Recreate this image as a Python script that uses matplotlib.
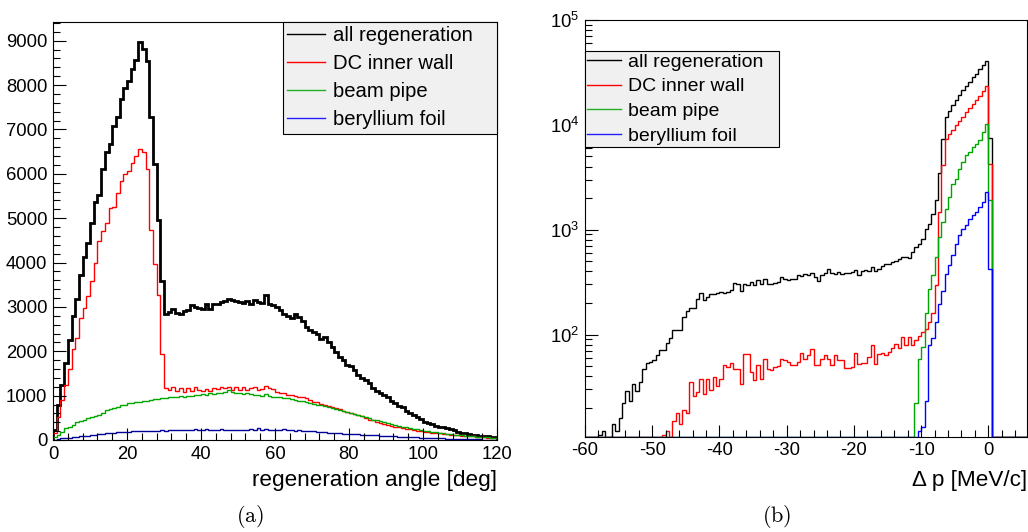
import numpy as np
import matplotlib
matplotlib.use("Agg")
from matplotlib import pyplot as plt
from matplotlib.lines import Line2D
from matplotlib.ticker import MultipleLocator, LogLocator, NullFormatter

plt.rcParams['font.family'] = ['Liberation Sans', 'DejaVu Sans']
plt.rcParams['mathtext.fontset'] = 'custom'
plt.rcParams['mathtext.rm'] = 'Liberation Sans'
plt.rcParams['mathtext.it'] = 'Liberation Sans:italic'
plt.rcParams['mathtext.bf'] = 'Liberation Sans:bold'
plt.rcParams['axes.unicode_minus'] = False

labels = ['all regeneration', 'DC inner wall', 'beam pipe', 'beryllium foil']

# (a) regeneration angle, 1 deg bins from 0 to 120
angle_all = [225, 787, 1237, 1725, 2250, 2790, 3187, 3712, 4125, 4440,
             4890, 5362, 5527, 6097, 6487, 6675, 7087, 7290, 7687, 7935,
             8100, 8362, 8565, 8962, 8812, 8550, 7275, 6225, 4950, 3577,
             2850, 2887, 2947, 2872, 2850, 2910, 2925, 3037, 3000, 2985,
             2962, 3060, 2962, 3075, 3060, 3112, 3135, 3187, 3150, 3135,
             3112, 3097, 3135, 3075, 3150, 3112, 3097, 3262, 3075, 3037,
             3000, 2925, 2850, 2790, 2760, 2850, 2775, 2685, 2550, 2475,
             2437, 2400, 2287, 2325, 2212, 2100, 1987, 1875, 1800, 1687,
             1665, 1575, 1462, 1387, 1350, 1275, 1162, 1110, 1050, 1012,
             960, 885, 825, 765, 735, 652, 600, 562, 525, 465,
             412, 390, 360, 315, 300, 300, 262, 247, 225, 187,
             165, 150, 135, 120, 105, 90, 85, 80, 75, 65]
angle_dc = [150, 525, 900, 1240, 1610, 2040, 2290, 2740, 2980, 3240,
            3580, 3980, 4480, 4700, 4880, 5220, 5260, 5570, 5840, 5990,
            6070, 6250, 6400, 6562, 6487, 6112, 4725, 3975, 3262, 1927,
            1162, 1125, 1185, 1100, 1162, 1087, 1162, 1100, 1185, 1125,
            1100, 1140, 1100, 1162, 1140, 1185, 1162, 1200, 1125, 1185,
            1125, 1200, 1125, 1162, 1200, 1125, 1140, 1220, 1162, 1140,
            1087, 1050, 1050, 1012, 1012, 990, 975, 960, 937, 900,
            862, 850, 810, 800, 775, 750, 720, 690, 650, 637,
            600, 590, 562, 530, 500, 450, 440, 415, 390, 360,
            337, 320, 300, 290, 262, 250, 240, 225, 212, 200,
            187, 175, 165, 157, 150, 140, 130, 120, 112, 105,
            100, 95, 90, 82, 75, 68, 60, 55, 52, 48]
angle_pipe = [60, 112, 187, 262, 290, 340, 400, 430, 460, 487,
              525, 545, 562, 615, 675, 690, 720, 735, 787, 800,
              825, 840, 847, 862, 870, 885, 900, 915, 930, 937,
              950, 960, 975, 960, 990, 975, 1000, 990, 1020, 1012,
              1035, 1020, 1050, 1035, 1060, 1050, 1090, 1125, 1090, 1070,
              1060, 1035, 1060, 1035, 1020, 1012, 1000, 1035, 990, 975,
              970, 960, 950, 937, 920, 900, 885, 870, 850, 835,
              820, 800, 780, 760, 750, 720, 700, 680, 650, 630,
              600, 580, 560, 535, 510, 490, 460, 440, 420, 400,
              380, 360, 340, 320, 300, 285, 270, 255, 240, 225,
              210, 195, 180, 170, 160, 150, 140, 130, 120, 112,
              105, 97, 90, 84, 77, 70, 64, 58, 53, 48]
angle_foil = [10, 25, 37, 45, 55, 62, 75, 82, 90, 100,
              112, 120, 130, 140, 150, 160, 165, 175, 180, 187,
              187, 195, 202, 195, 205, 202, 210, 205, 210, 215,
              210, 220, 215, 225, 220, 225, 230, 225, 240, 230,
              235, 240, 230, 235, 225, 240, 230, 225, 235, 225,
              230, 235, 225, 240, 230, 260, 235, 245, 225, 235,
              230, 220, 245, 215, 225, 210, 215, 210, 205, 200,
              195, 185, 180, 175, 165, 160, 155, 150, 145, 140,
              135, 130, 125, 120, 115, 112, 108, 102, 97, 92,
              90, 85, 80, 75, 70, 67, 63, 60, 57, 55,
              52, 48, 45, 42, 38, 35, 32, 30, 27, 25,
              22, 20, 18, 16, 14, 12, 11, 10, 9, 8]

# (b) momentum loss, 0.5 MeV/c bins from -60 to 6
dp_all = [0] * 4 + [
    11, 12, 0, 0, 14, 12, 16, 22, 29, 23, 34, 29, 35, 47, 53,
    55, 57, 64, 71, 71, 83, 92, 110, 111, 111, 147, 167, 181, 181, 220,
    249, 215, 228, 242, 245, 249, 252, 249, 255, 263, 312, 301, 260, 306, 295,
    317, 295, 329, 306, 341, 306, 301, 312, 317, 354, 341, 333, 341, 341, 367,
    361, 374, 367, 389, 354, 323, 367, 389, 421, 389, 381, 396, 381, 387, 387,
    396, 410, 367, 405, 410, 405, 440, 405, 425, 447, 473, 473, 491, 500, 525,
    543, 543, 537, 612, 684, 736, 822, 1024, 1143, 1423,
    1908, 3475, 7380, 11880, 13550, 15350, 17130, 19100, 21300, 23270,
    25600, 28570, 30750, 34300, 36900, 40600, 7520] + [0] * 11
dp_dc = [0] * 23 + [
    11, 12, 0, 15, 18, 14, 19, 18, 35, 26, 28, 38, 27, 38, 29.5,
    39.5, 32, 38, 51, 49, 53, 47, 47, 34, 65, 65, 44, 37, 51, 38,
    59, 47, 46, 49, 50, 59, 57, 55, 51, 51, 55, 66, 59, 64, 72,
    51, 51, 59, 64, 59, 51, 64, 57, 57, 47.5, 47.5, 49, 66, 52, 53,
    54, 61, 79, 52, 65, 66, 64, 68, 74, 81, 75, 94, 79, 94, 79,
    88, 97, 106, 114, 132, 159, 295, 1475, 4100, 7380,
    8220, 8840, 10070, 10830, 11830, 13200, 14530, 15870, 17300, 19040,
    21250, 23700, 4260] + [0] * 11
dp_pipe = [0] * 98 + [
    22, 59, 76, 159, 274, 367, 548, 851, 1180, 1585, 2042, 2740,
    3060, 3810, 4400, 5100, 5490, 6120, 6590, 7190, 8500, 10200, 1900] + [0] * 11
dp_foil = [0] * 99 + [
    12, 13, 23, 79, 92, 132, 194, 260, 381, 457, 569,
    736, 883, 1023, 1100, 1273, 1370, 1471, 1643, 1834, 2280, 426] + [0] * 11


def style_axis(ax):
    ax.tick_params(which='both', direction='in', top=False, right=False,
                   labelsize=13.3, width=0.8)
    ax.tick_params(which='major', length=9, pad=4)
    ax.tick_params(which='minor', length=4.8)
    for s in ax.spines.values():
        s.set_linewidth(0.8)


def add_legend(ax, colors, bbox, fs, hl, htp, ls, bp):
    handles = [Line2D([], [], color=c, lw=1.0) for c in colors]
    leg = ax.legend(handles, labels, loc='upper left', bbox_to_anchor=bbox,
                    mode='expand', borderaxespad=0, fontsize=fs,
                    fancybox=False, edgecolor='black', facecolor='#f0f0f0',
                    framealpha=1, handlelength=hl, handletextpad=htp,
                    labelspacing=ls, borderpad=bp)
    leg.get_frame().set_linewidth(0.8)


fig = plt.figure(figsize=(10.28, 5.32), dpi=100)
ax1 = fig.add_axes([53 / 1028, 1 - 440 / 532, 444 / 1028, 418 / 532])
ax2 = fig.add_axes([585 / 1028, 1 - 436.7 / 532, 441.7 / 1028, 416.7 / 532])

# --- (a)
angle_edges = np.linspace(0, 120, 121)
ax1.stairs(angle_all, angle_edges, baseline=0, color='black', lw=2.0)
ax1.stairs(angle_dc, angle_edges, baseline=0, color='#ff0000', lw=1.0)
ax1.stairs(angle_pipe, angle_edges, baseline=0, color='#00a600', lw=1.0)
ax1.stairs(angle_foil, angle_edges, baseline=0, color='#000099', lw=1.0)
ax1.set_xlim(0, 120)
ax1.set_ylim(0, 9420)
ax1.xaxis.set_major_locator(MultipleLocator(20))
ax1.xaxis.set_minor_locator(MultipleLocator(4))
ax1.yaxis.set_major_locator(MultipleLocator(1000))
ax1.yaxis.set_minor_locator(MultipleLocator(200))
style_axis(ax1)
ax1.set_xlabel('regeneration angle [deg]', fontsize=16.2, loc='right')
ax1.xaxis.set_label_coords(1.0, -0.0957)
ax1.xaxis.label.set_va('center')
add_legend(ax1, ['black', '#ff0000', '#20b020', '#2020ff'],
           (0.518, 0, 0.482, 1.0), 14.6, 1.85, 0.4, 0.44, 0.22)

# --- (b)
ymin = 10.6
dp_edges = np.linspace(-60, 6, 133)
for vals, col in [(dp_all, 'black'), (dp_dc, '#ff0000'),
                  (dp_pipe, '#00a600'), (dp_foil, '#0000ff')]:
    ax2.stairs(np.clip(np.array(vals, dtype=float), ymin, None), dp_edges,
               baseline=ymin, color=col, lw=1.0)
ax2.set_yscale('log')
ax2.set_xlim(-60, 5.7)
ax2.set_ylim(ymin, 1e5)
ax2.xaxis.set_major_locator(MultipleLocator(10))
ax2.xaxis.set_minor_locator(MultipleLocator(2))
ax2.yaxis.set_major_locator(LogLocator(base=10))
ax2.yaxis.set_minor_locator(LogLocator(base=10, subs=np.arange(2, 10)))
ax2.yaxis.set_minor_formatter(NullFormatter())
style_axis(ax2)
ax2.set_xlabel('\u0394 p [MeV/c]', fontsize=16.2, loc='right')
ax2.xaxis.set_label_coords(1.0, -0.104)
ax2.xaxis.label.set_va('center')
add_legend(ax2, ['black', '#ff0000', '#20b020', '#2020ff'],
           (0, 0, 0.439, 0.9256), 14, 1.75, 0.37, 0.37, 0.1)

fig.text(250 / 1028, 1 - 517 / 532, r'$\mathrm{(a)}$', math_fontfamily='cm',
         fontsize=16, ha='center', va='center')
fig.text(777 / 1028, 1 - 517 / 532, r'$\mathrm{(b)}$', math_fontfamily='cm',
         fontsize=16, ha='center', va='center')

fig.savefig('out.png', dpi=100)
